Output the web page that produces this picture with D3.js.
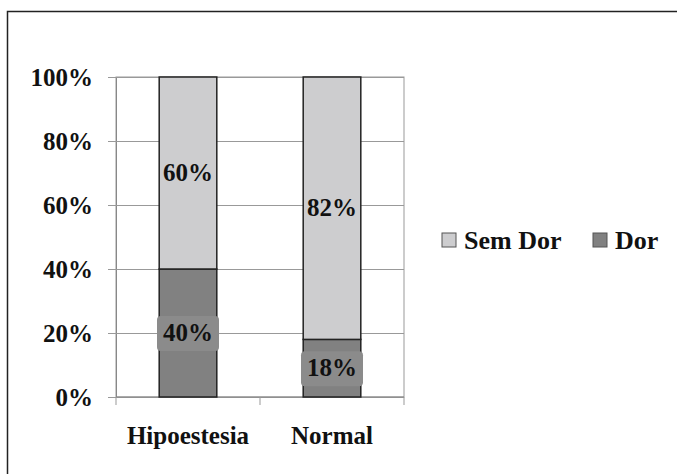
<!DOCTYPE html>
<html>
<head>
<meta charset="utf-8">
<script src="https://cdn.jsdelivr.net/npm/d3@7"></script>
<style>
    body { margin: 0; background: #fff; }
</style>
</head>
<body>
<div class="chart"></div>
<script>
// Data
const categories = ['Hipoestesia', 'Normal'];
const dorValues = [40, 18];
const semDorValues = [60, 82];
const yTicks = [0, 20, 40, 60, 80, 100];
const seriesNames = ['Sem Dor', 'Dor'];

const colors = { 'Sem Dor': '#cdcdcf', 'Dor': '#818181' };
const FONT = 'Liberation Serif';

const svgWidth = 677;
const svgHeight = 474;
const margin = { top: 77, left: 116 };
const width = 288;
const height = 320;

const svg = d3.select('.chart')
    .append('svg')
    .attr('width', svgWidth)
    .attr('height', svgHeight)
    .attr('font-family', FONT)
    .attr('font-weight', 'bold');

// outer frame (only top and left edges visible)
svg.append('path')
    .attr('d', 'M7.5,' + svgHeight + ' V11.5 H' + svgWidth)
    .attr('fill', 'none')
    .attr('stroke', '#222')
    .attr('stroke-width', 1.5);

const g = svg.append('g')
    .attr('transform', 'translate(' + margin.left + ',' + margin.top + ')');

// Scales
const xScale = d3.scaleBand()
    .domain(categories)
    .range([0, width])
    .paddingInner(0.6)
    .paddingOuter(0.3);

const yScale = d3.scaleLinear()
    .domain([0, 100])
    .range([height, 0]);

// plot frame + grid
g.append('rect')
    .attr('width', width)
    .attr('height', height)
    .attr('fill', 'none')
    .attr('stroke', '#999');

const yAxis = d3.axisLeft(yScale)
    .tickValues(yTicks)
    .tickFormat(d => d + '%')
    .tickSizeInner(-width)
    .tickSizeOuter(0)
    .tickPadding(23);

const yAxisDraw = g.append('g').attr('class', 'y axis');
yAxis(yAxisDraw);
yAxisDraw.attr('font-family', FONT).attr('font-size', 25);
yAxisDraw.select('.domain').attr('stroke', '#888');
yAxisDraw.selectAll('.tick line').attr('stroke', '#999').attr('x1', -8);
yAxisDraw.selectAll('.tick text')
    .attr('font-family', FONT)
    .attr('font-weight', 'bold')
    .attr('font-size', 25)
    .attr('fill', '#111');

// x axis ticks between categories
const xAxisDraw = g.append('g')
    .attr('transform', 'translate(0,' + height + ')');
xAxisDraw.append('line').attr('x1', 0).attr('x2', width).attr('stroke', '#888');
[0, width / 2, width].forEach(x => {
    xAxisDraw.append('line')
        .attr('x1', x).attr('x2', x)
        .attr('y1', 0).attr('y2', 8)
        .attr('stroke', '#999');
});
xAxisDraw.selectAll('.xlabel')
    .data(categories)
    .enter()
    .append('text')
    .attr('class', 'xlabel')
    .attr('x', d => xScale(d) + xScale.bandwidth() / 2)
    .attr('y', 47)
    .attr('text-anchor', 'middle')
    .attr('font-family', FONT)
    .attr('font-size', 25)
    .attr('fill', '#111')
    .text(d => d);

// stacked bars
const stackData = categories.map((c, i) => ({ cat: c, 'Dor': dorValues[i], 'Sem Dor': semDorValues[i] }));
const stack = d3.stack().keys(['Dor', 'Sem Dor'])(stackData);

stack.forEach(layer => {
    g.selectAll('.bar-' + layer.key.replace(' ', ''))
        .data(layer)
        .enter()
        .append('rect')
        .attr('x', d => xScale(d.data.cat))
        .attr('y', d => yScale(d[1]))
        .attr('width', xScale.bandwidth())
        .attr('height', d => yScale(d[0]) - yScale(d[1]))
        .attr('fill', colors[layer.key])
        .attr('stroke', '#222')
        .attr('stroke-width', 1.5);
});

// value labels
stack.forEach(layer => {
    layer.forEach(d => {
        const cx = xScale(d.data.cat) + xScale.bandwidth() / 2;
        const cy = yScale((d[0] + d[1]) / 2);
        if (layer.key === 'Dor') {
            g.append('rect')
                .attr('x', cx - 31)
                .attr('y', cy - 17)
                .attr('width', 62)
                .attr('height', 35)
                .attr('rx', 4)
                .attr('fill', '#8b8b8b');
        }
        g.append('text')
            .attr('x', cx)
            .attr('y', cy)
            .attr('dy', '0.33em')
            .attr('text-anchor', 'middle')
            .attr('font-family', FONT)
            .attr('font-size', 25)
            .attr('fill', '#111')
            .text(d[1] - d[0] + '%');
    });
});

// legend
const legend = svg.append('g').attr('transform', 'translate(442,240)');
const legendX = [0, 151];
seriesNames.forEach((name, i) => {
    legend.append('rect')
        .attr('x', legendX[i])
        .attr('y', -7)
        .attr('width', 14)
        .attr('height', 14)
        .attr('fill', colors[name])
        .attr('stroke', '#555');
    legend.append('text')
        .attr('x', legendX[i] + 22)
        .attr('y', 0)
        .attr('dy', '0.33em')
        .attr('font-family', FONT)
        .attr('font-size', 26)
        .attr('fill', '#111')
        .text(name);
});
</script>
</body>
</html>
